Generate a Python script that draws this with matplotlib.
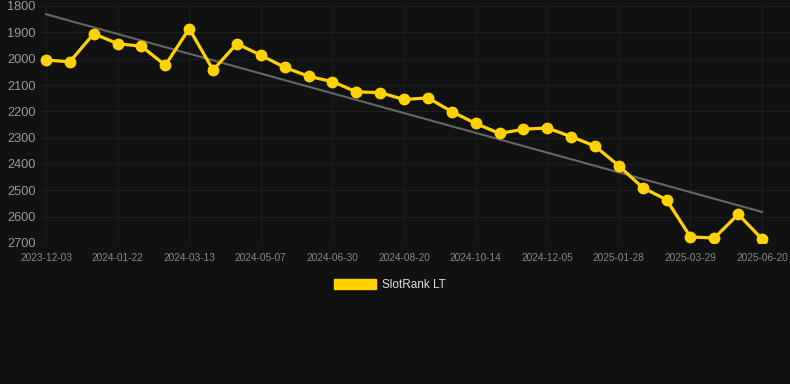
import matplotlib
matplotlib.use("Agg")
import matplotlib.pyplot as plt
import numpy as np

dates = ["2023-12-03", "", "", "2024-01-22", "", "", "2024-03-13", "", "", "2024-05-07",
         "", "", "2024-06-30", "", "", "2024-08-20", "", "", "2024-10-14", "", "",
         "2024-12-05", "", "", "2025-01-28", "", "", "2025-03-29", "", "", "2025-06-20"]
ranks = [2005, 2012, 1905, 1943, 1953, 2025, 1886, 2043, 1943, 1987,
         2033, 2067, 2087, 2126, 2129, 2155, 2149, 2201, 2246, 2284,
         2268, 2263, 2296, 2332, 2407, 2490, 2536, 2677, 2681, 2591, 2685]
series_name = "SlotRank LT"
yticks = [1800, 1900, 2000, 2100, 2200, 2300, 2400, 2500, 2600, 2700]

plt.rcParams['font.family'] = ['Liberation Sans', 'DejaVu Sans']
bg = "#111111"
fig = plt.figure(figsize=(7.9, 3.84), dpi=100, facecolor=bg)
ax = fig.add_axes([40/790, 1-243/384, 750/790, 237/384], facecolor=bg)

x = np.arange(len(ranks))
coef = np.polyfit(x, ranks, 1)
trend = np.polyval(coef, x)
ax.plot(x, trend, color="#666666", lw=1.5, zorder=2)
ax.plot(x, ranks, color="#FFD200", lw=2.3, marker="o", markersize=7.5, zorder=3)

ax.set_ylim(2700, 1800)
ax.set_xlim(-0.25, 31.17)
ax.set_yticks(yticks)
tick_idx = [i for i, d in enumerate(dates) if d]
ax.set_xticks(tick_idx)
ax.set_xticklabels([dates[i] for i in tick_idx])
ax.grid(True, color="#1e1e1e", lw=0.8)
for s in ax.spines.values():
    s.set_visible(False)
ax.tick_params(axis='y', colors="#999999", labelsize=9.2, length=0, pad=3)
ax.tick_params(axis='x', colors="#888888", labelsize=7.3, length=0, pad=7)

from matplotlib.patches import Patch
leg = fig.legend(handles=[Patch(color="#FFD200", label=series_name)], loc="center",
                 bbox_to_anchor=(390/790, 1-285/384), frameon=False, fontsize=8.5,
                 handlelength=3.6, handleheight=1.0, handletextpad=0.5)
for t in leg.get_texts():
    t.set_color("#dddddd")

fig.savefig("out.png", dpi=100, facecolor=bg)
